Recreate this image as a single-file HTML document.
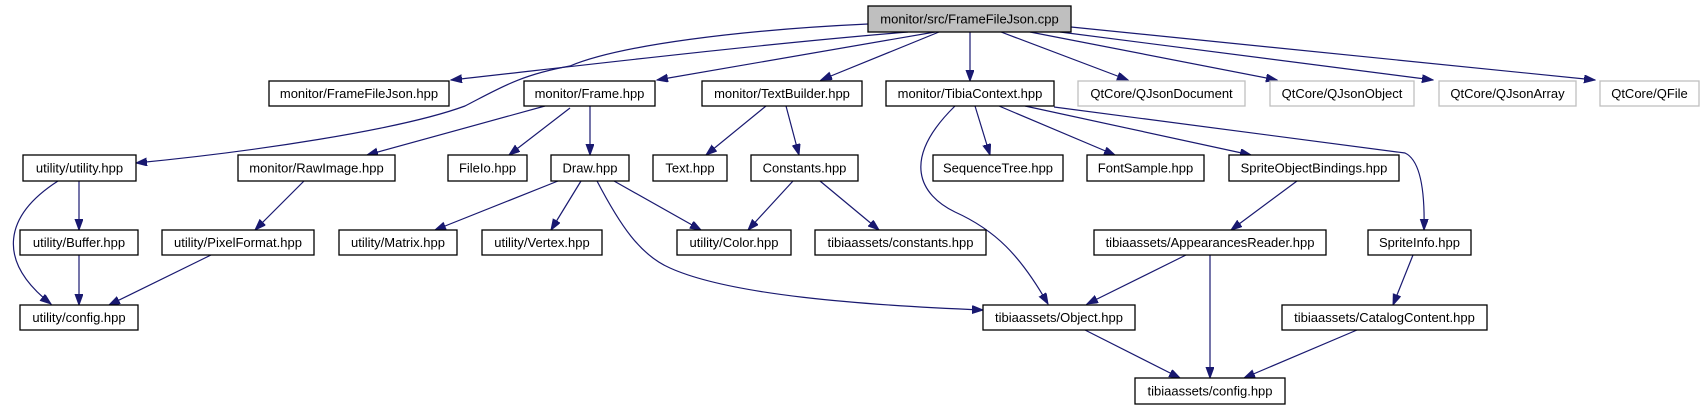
<!DOCTYPE html>
<html><head><meta charset="utf-8"><style>
html,body{margin:0;padding:0;background:#fff;}
svg{display:block;}
text{font-family:"Liberation Sans",Helvetica,Arial,sans-serif;font-size:13px;text-anchor:middle;fill:#000;}
.n{fill:#fff;stroke:#000;stroke-width:1.3;}
.g{fill:#fff;stroke:#bfbfbf;stroke-width:1.3;}
.e{fill:none;stroke:#191970;stroke-width:1.2;marker-end:url(#a);}
</style></head><body>
<svg width="1705" height="411" viewBox="0 0 1705 411" xmlns="http://www.w3.org/2000/svg">
<defs><marker id="a" markerUnits="userSpaceOnUse" markerWidth="12" markerHeight="10" refX="11" refY="4" orient="auto"><path d="M0,0 L11,4 L0,8 Z" fill="#191970" stroke="#191970"/></marker></defs>
<g>
<path class="e" d="M868,24 C740,30 620,45 570,66 C520,75 500,88 465,106 C400,130 250,152 136,163"/>
<path class="e" d="M908,32 C750,45 560,68 451,80"/>
<path class="e" d="M935,32 L657,80"/>
<path class="e" d="M939,32 L821,80"/>
<path class="e" d="M970,32 L970,81"/>
<path class="e" d="M1001,32 L1128,80"/>
<path class="e" d="M1030,32 L1277,80"/>
<path class="e" d="M1060,32 L1433,80"/>
<path class="e" d="M1071,27 L1595,80"/>
<path class="e" d="M545,106 L367,155"/>
<path class="e" d="M570,108 L509,155"/>
<path class="e" d="M590,106 L590,155"/>
<path class="e" d="M766,106 L706,155"/>
<path class="e" d="M786,106 L799,155"/>
<path class="e" d="M955,106 C900,160 920,195 955,212 C995,230 1020,255 1048,304"/>
<path class="e" d="M975,106 L990,155"/>
<path class="e" d="M999,106 L1115,155"/>
<path class="e" d="M1025,106 L1251,155"/>
<path class="e" d="M1054,107 L1405,153 C1420,160 1425,190 1424,230"/>
<path class="e" d="M79,181 L79,230"/>
<path class="e" d="M58,181 C5,215 -5,260 51,304"/>
<path class="e" d="M79,255 L79,305"/>
<path class="e" d="M304,181 L255,230"/>
<path class="e" d="M211,255 L109,305"/>
<path class="e" d="M558,181 L435,230"/>
<path class="e" d="M581,181 L551,230"/>
<path class="e" d="M614,181 L701,230"/>
<path class="e" d="M597,181 C620,225 640,255 670,268 C730,295 860,305 983,310"/>
<path class="e" d="M793,181 L748,230"/>
<path class="e" d="M820,181 L879,230"/>
<path class="e" d="M1297,181 L1231,230"/>
<path class="e" d="M1186,255 L1087,304"/>
<path class="e" d="M1210,255 L1210,378"/>
<path class="e" d="M1413,255 L1393,305"/>
<path class="e" d="M1357,330 L1244,378"/>
<path class="e" d="M1085,330 L1180,378"/>
</g>
<rect x="868" y="6" width="203" height="26" fill="#bfbfbf" stroke="#000" stroke-width="1.3"/><text x="969.5" y="23.5">monitor/src/FrameFileJson.cpp</text>
<rect class="n" x="269" y="81" width="180" height="25"/><text x="359" y="98">monitor/FrameFileJson.hpp</text>
<rect class="n" x="524" y="81" width="131" height="25"/><text x="589.5" y="98">monitor/Frame.hpp</text>
<rect class="n" x="702" y="81" width="160" height="25"/><text x="782" y="98">monitor/TextBuilder.hpp</text>
<rect class="n" x="886" y="81" width="168" height="25"/><text x="970" y="98">monitor/TibiaContext.hpp</text>
<rect class="g" x="1078" y="81" width="167" height="25"/><text x="1161.5" y="98">QtCore/QJsonDocument</text>
<rect class="g" x="1270" y="81" width="144" height="25"/><text x="1342" y="98">QtCore/QJsonObject</text>
<rect class="g" x="1439" y="81" width="137" height="25"/><text x="1507.5" y="98">QtCore/QJsonArray</text>
<rect class="g" x="1600" y="81" width="99" height="25"/><text x="1649.5" y="98">QtCore/QFile</text>
<rect class="n" x="23" y="155" width="113" height="26"/><text x="79.5" y="172.5">utility/utility.hpp</text>
<rect class="n" x="238" y="155" width="157" height="26"/><text x="316.5" y="172.5">monitor/RawImage.hpp</text>
<rect class="n" x="448" y="155" width="79" height="26"/><text x="487.5" y="172.5">FileIo.hpp</text>
<rect class="n" x="551" y="155" width="78" height="26"/><text x="590" y="172.5">Draw.hpp</text>
<rect class="n" x="653" y="155" width="74" height="26"/><text x="690" y="172.5">Text.hpp</text>
<rect class="n" x="751" y="155" width="107" height="26"/><text x="804.5" y="172.5">Constants.hpp</text>
<rect class="n" x="933" y="155" width="130" height="26"/><text x="998" y="172.5">SequenceTree.hpp</text>
<rect class="n" x="1087" y="155" width="117" height="26"/><text x="1145.5" y="172.5">FontSample.hpp</text>
<rect class="n" x="1229" y="155" width="170" height="26"/><text x="1314" y="172.5">SpriteObjectBindings.hpp</text>
<rect class="n" x="20" y="230" width="118" height="25"/><text x="79" y="247">utility/Buffer.hpp</text>
<rect class="n" x="162" y="230" width="152" height="25"/><text x="238" y="247">utility/PixelFormat.hpp</text>
<rect class="n" x="339" y="230" width="118" height="25"/><text x="398" y="247">utility/Matrix.hpp</text>
<rect class="n" x="482" y="230" width="120" height="25"/><text x="542" y="247">utility/Vertex.hpp</text>
<rect class="n" x="677" y="230" width="114" height="25"/><text x="734" y="247">utility/Color.hpp</text>
<rect class="n" x="815" y="230" width="171" height="25"/><text x="900.5" y="247">tibiaassets/constants.hpp</text>
<rect class="n" x="1094" y="230" width="232" height="25"/><text x="1210" y="247">tibiaassets/AppearancesReader.hpp</text>
<rect class="n" x="1368" y="230" width="103" height="25"/><text x="1419.5" y="247">SpriteInfo.hpp</text>
<rect class="n" x="20" y="305" width="118" height="25"/><text x="79" y="322">utility/config.hpp</text>
<rect class="n" x="983" y="305" width="152" height="25"/><text x="1059" y="322">tibiaassets/Object.hpp</text>
<rect class="n" x="1282" y="305" width="205" height="25"/><text x="1384.5" y="322">tibiaassets/CatalogContent.hpp</text>
<rect class="n" x="1135" y="378" width="150" height="26"/><text x="1210" y="395.5">tibiaassets/config.hpp</text>
</svg>
</body></html>
